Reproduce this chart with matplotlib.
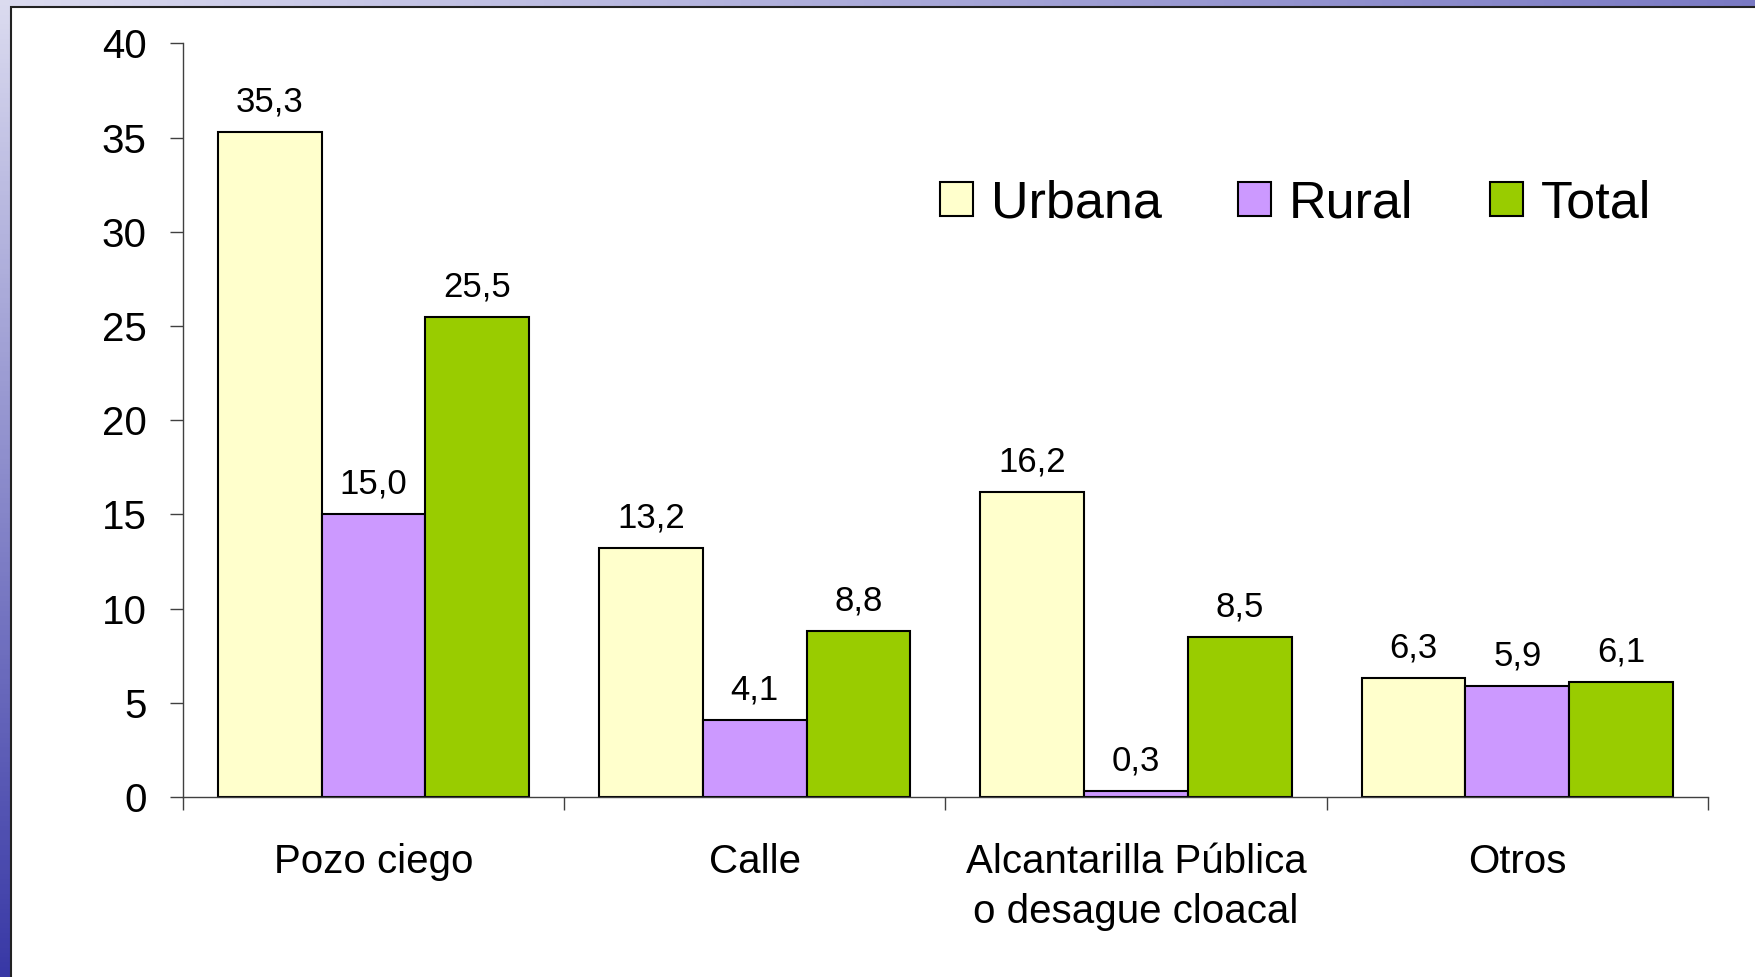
import numpy as np
import matplotlib
matplotlib.use("Agg")
import matplotlib.pyplot as plt
from matplotlib.patches import Rectangle

plt.rcParams['font.family'] = ['Liberation Sans', 'DejaVu Sans']

# data
categories = ['Pozo ciego', 'Calle', 'Alcantarilla Pública\no desague cloacal', 'Otros']
series_names = ['Urbana', 'Rural', 'Total']
urbana = [35.3, 13.2, 16.2, 6.3]
rural = [15.0, 4.1, 0.3, 5.9]
total = [25.5, 8.8, 8.5, 6.1]
colors = ['#FFFFCC', '#CC99FF', '#99CC00']
yticks = [0, 5, 10, 15, 20, 25, 30, 35, 40]

W, H = 1755, 977
fig = plt.figure(figsize=(W / 100, H / 100), dpi=100)

# background: bluish slide frame on the left and top
bg = fig.add_axes([0, 0, 1, 1], zorder=0)
yy, xx = np.mgrid[0:1:200j, 0:1:400j]
t = np.maximum(yy, xx * 0.6)
light = np.array([0.86, 0.86, 0.94])
dark = np.array([0.22, 0.22, 0.65])
img = light + (dark - light) * t[..., None]
bg.imshow(img, aspect='auto', extent=[0, 1, 0, 1], origin='upper')
bg.add_patch(Rectangle((11 / W, -0.01), 1.0, 1 - 7 / H + 0.01,
                       facecolor='white', edgecolor='#222222', lw=1.5))
bg.set_xlim(0, 1)
bg.set_ylim(0, 1)
bg.axis('off')

# chart
ax = fig.add_axes([182.7 / W, 1 - 797 / H, (1708 - 182.7) / W, (797 - 43.5) / H], zorder=1)
ax.patch.set_alpha(0)

x = np.arange(len(categories))
bw = 0.272
for i, (vals, name) in enumerate(zip([urbana, rural, total], series_names)):
    pos = x + (i - 1) * bw
    bars = ax.bar(pos, vals, bw, color=colors[i], edgecolor='black', lw=1.5, label=name)
    for b, v in zip(bars, vals):
        ax.annotate(f"{v:.1f}".replace('.', ','), (b.get_x() + b.get_width() / 2, v),
                    xytext=(0, 14.8), textcoords='offset points',
                    ha='center', va='baseline', fontsize=25)

ax.set_xlim(-0.5, len(categories) - 0.5)
ax.set_ylim(0, 40)
ax.set_yticks(yticks)
ax.set_yticklabels([str(v) for v in yticks], fontsize=29)
ax.tick_params(axis='y', direction='out', length=9.4, width=1, color='#404040', pad=16.6)

ax.set_xticks(x)
ax.set_xticklabels(categories, fontsize=29, linespacing=1.42)
ax.set_xticks(np.arange(-0.5, len(categories)), minor=True)
ax.tick_params(axis='x', which='major', length=0, pad=33)
ax.tick_params(axis='x', which='minor', direction='out', length=9.4, width=1, color='#404040')

for s in ['top', 'right']:
    ax.spines[s].set_visible(False)
for s in ['left', 'bottom']:
    ax.spines[s].set_color('#404040')
    ax.spines[s].set_linewidth(1)

leg = ax.legend(loc='center left', bbox_to_anchor=(940 / W, 1 - 204 / H),
                bbox_transform=fig.transFigure, ncol=3, frameon=False,
                fontsize=37.5, handlelength=0.64, handleheight=0.62,
                handletextpad=0.34, columnspacing=1.46, borderpad=0, borderaxespad=0)

fig.savefig('out.png', dpi=100)
